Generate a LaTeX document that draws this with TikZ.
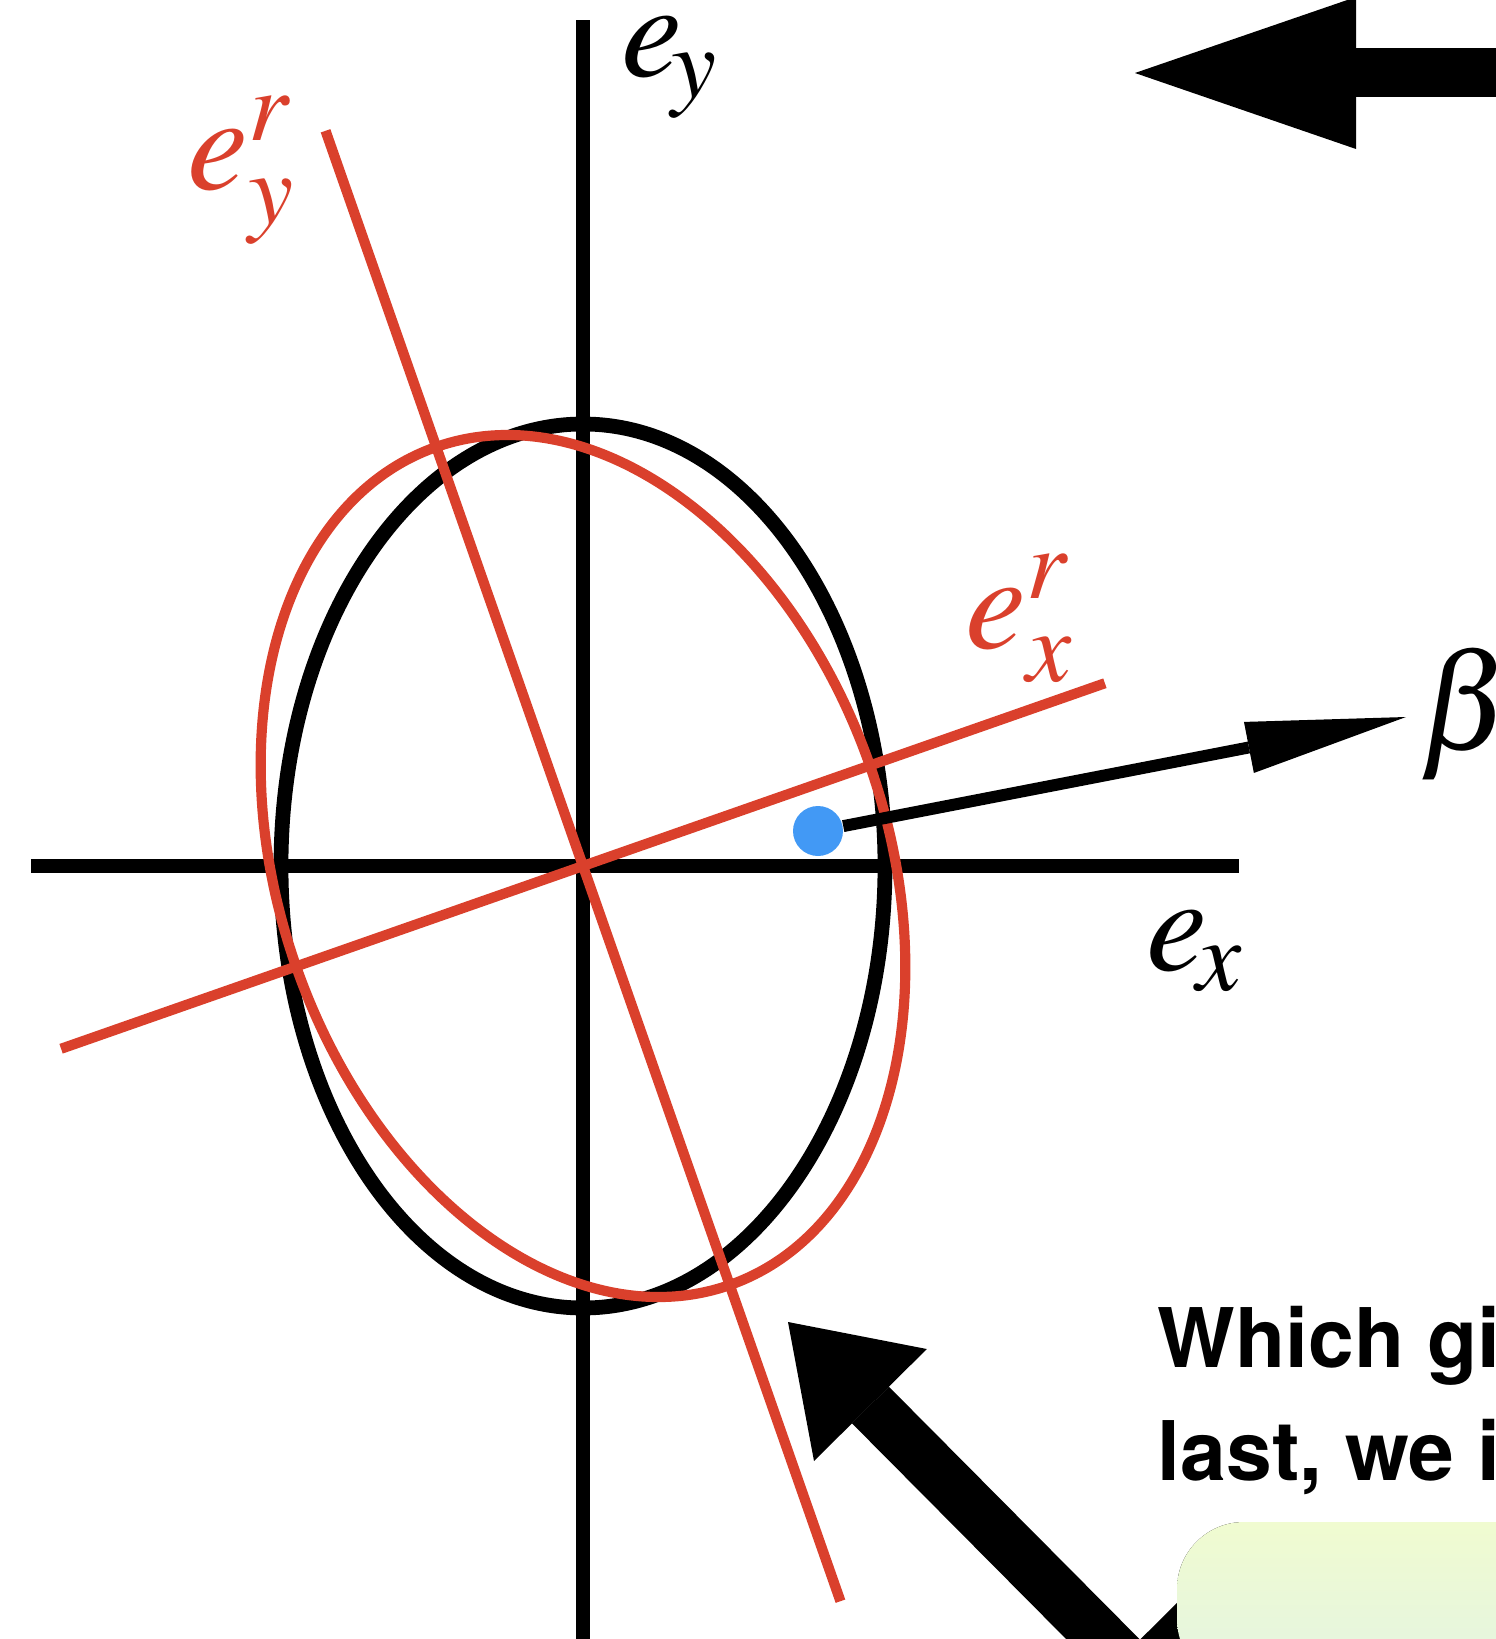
\documentclass[tikz,border=0pt]{standalone}
\usepackage{mathptmx}
\usepackage[no-math]{fontspec}
\newfontfamily\heros{TeX Gyre Heros}
\usetikzlibrary{arrows.meta,positioning}
\definecolor{axisred}{RGB}{218,64,44}
\definecolor{dotblue}{RGB}{66,153,245}
\definecolor{boxtop}{RGB}{240,251,208}
\definecolor{boxbottom}{RGB}{227,244,226}
\begin{document}
\begin{tikzpicture}[
	blackline/.style={line width=4.2pt},
	redline/.style={axisred, line width=2.9pt},
	mathlabel/.style={anchor=base west, inner sep=0pt, font=\fontsize{39}{44}\selectfont},
	notetext/.style={anchor=base west, inner sep=0pt, font=\heros\bfseries\fontsize{23.4}{28}\selectfont},
	bigtip/.tip={Triangle[length=1.17cm, width=1.59cm, line width=0pt]}
]
	\useasboundingbox (-5.83,-7.73) rectangle (9.13,8.66);
	\coordinate (origin) at (0,0);
	\draw[blackline] (-5.52,0) -- (6.56,0);
	\draw[blackline] (0,-7.9) -- (0,8.46);
	\draw[blackline] (origin) ellipse [x radius=3.02, y radius=4.42];
	\draw[redline, rotate=19.3] (origin) ellipse [x radius=3.04, y radius=4.44];
	\draw[redline, rotate=19.3] (-5.53,0) -- (5.53,0);
	\draw[redline, rotate=19.3] (0,-7.79) -- (0,7.79);
	\node[mathlabel] (eylabel) at (0.38,7.89) {$e_{\!y}$};
	\node[mathlabel, axisred] (eyrlabel) at (-3.96,6.76) {$e^r_y$};
	\node[mathlabel, axisred] (exrlabel) at (3.82,2.18) {$e^r_x$};
	\node[mathlabel] (exlabel) at (5.63,-1.04) {$e_{\!x}$};
	\node[mathlabel, anchor=west] (betalabel) at (8.36,1.52) {$\beta$};
	\node[circle, fill=dotblue, inner sep=0pt, minimum width=0.48cm, minimum height=0.5cm] (dot) at (2.35,0.35) {};
	\coordinate (betatip) at (8.23,1.49);
	\draw[line width=3.4pt, -{Triangle[length=1.6cm, width=0.52cm, line width=0pt]}] (dot) -- (betatip);
	\coordinate (toptail) at (10,7.93);
	\coordinate (toptip) at (5.52,7.93);
	\draw[line width=0.49cm, -{Triangle[length=2.21cm, width=1.52cm, line width=0pt]}] (toptail) -- (toptip);
	\coordinate (bighead) at (2.05,-4.56);
	\coordinate (bigtail) at (6.21,-8.75);
	\draw[line width=0.52cm, bigtip-bigtip] (bighead) -- (bigtail);
	\fill[top color=boxtop, bottom color=boxbottom, rounded corners=0.67cm] (5.94,-6.56) rectangle (9.8,-8.2);
	\node[notetext] (whichline) at (5.74,-5.01) {Which giv};
	\node[notetext] (lastline) at ([yshift=-1.13cm]whichline.base west) {last, we i};
\end{tikzpicture}
\end{document}
